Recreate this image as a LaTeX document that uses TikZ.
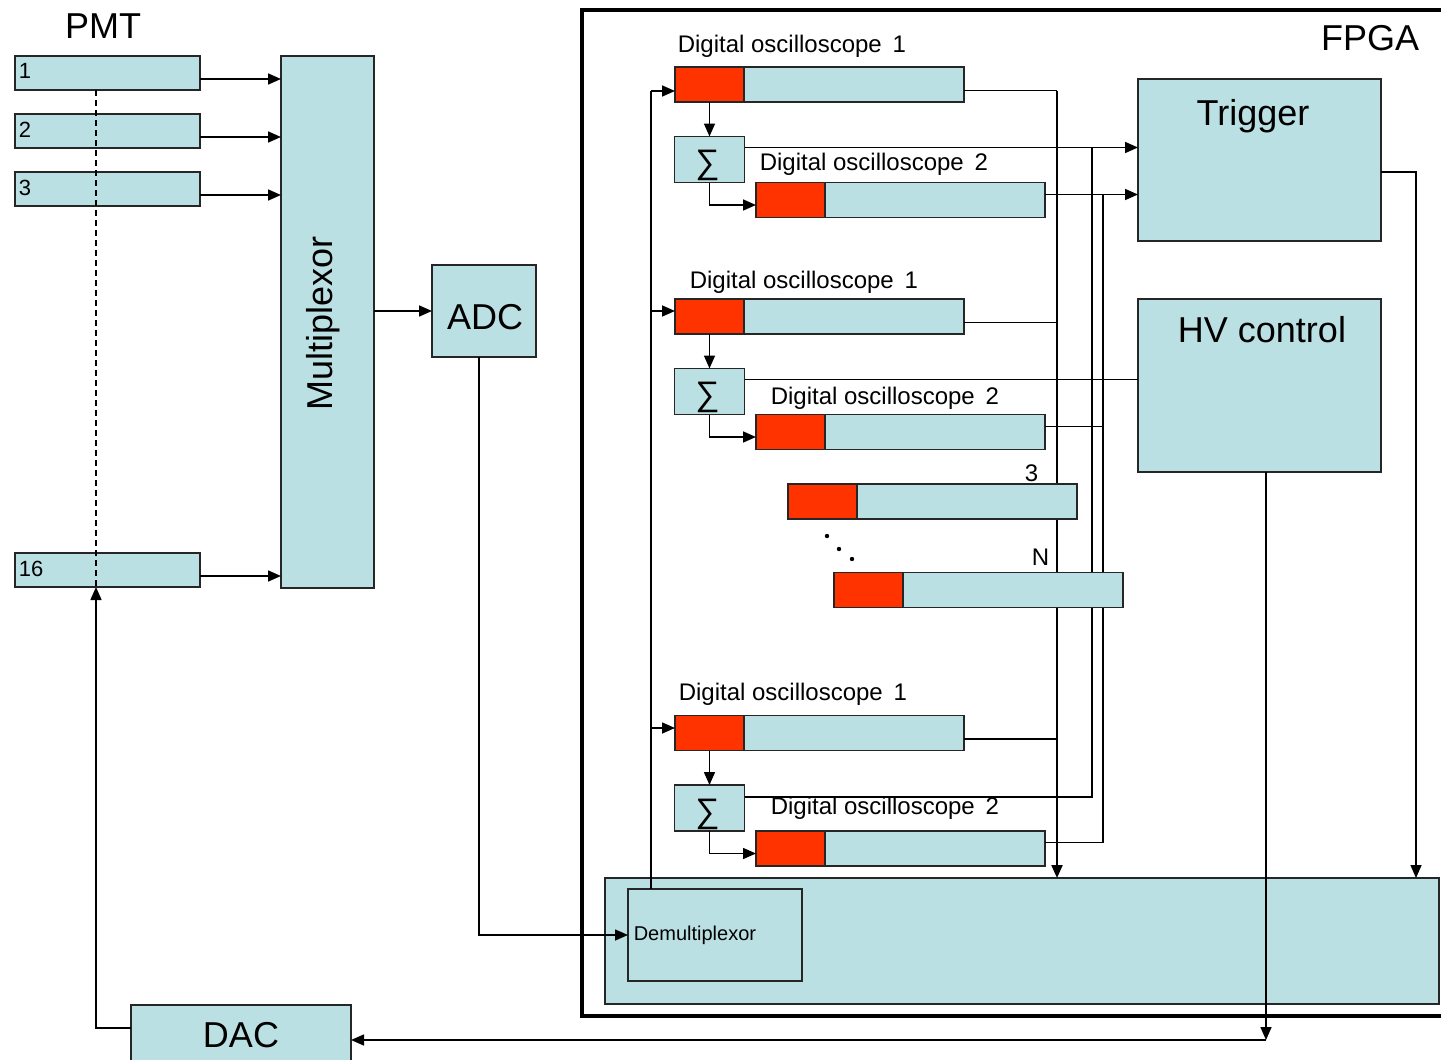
\documentclass[tikz,border=0pt]{standalone}
\usepackage{fontspec}
\setmainfont{Liberation Sans}
\usetikzlibrary{positioning,arrows.meta}
\definecolor{pale}{HTML}{BBE0E3}
\definecolor{hot}{HTML}{FF3300}

\begin{document}
\begin{tikzpicture}
[x=0.5pt,y=-0.5pt,
 >={Triangle[length=6.5pt,width=5.5pt]},
 line width=0.8pt,
 blk/.style={rectangle,draw=black!85,fill=pale,inner sep=0pt,outer sep=0pt},
 pmt/.style={blk,minimum width=92.5pt,minimum height=17pt},
 head/.style={blk,fill=hot,minimum width=34.5pt,minimum height=17.5pt},
 body/.style={blk,minimum width=110pt,minimum height=17.5pt},
 sig/.style={blk,minimum width=35pt,minimum height=23pt},
 sigt/.style={inner sep=0pt,font=\fontsize{17}{18}\selectfont},
 big/.style={inner sep=0pt,font=\fontsize{18}{20}\selectfont},
 txt/.style={inner sep=0pt,font=\fontsize{12}{14}\selectfont},
 num/.style={inner sep=0pt,font=\fontsize{11}{13}\selectfont},
 bus/.style={line width=1.1pt}]
\useasboundingbox (0,0) rectangle (1441,1060);

% FPGA frame and lower block
\node[draw,line width=1.6pt,inner sep=0pt,minimum width=435pt,minimum height=503pt] (fpga) at (1017,513) {};
\node[big] (fpgat) at (1370,38) {FPGA};
\node[blk,minimum width=417pt,minimum height=63pt] (proc) at (1022,941) {};
\node[blk,minimum width=87pt,minimum height=46pt] (dmx) at (715,935) {};
\node[inner sep=0pt,font=\fontsize{10}{12}\selectfont,anchor=west] (dmxt) [right=2.5pt of dmx.west] {Demultiplexor};

% PMT channels
\node[big] (pmtt) at (103,26.5) {PMT};
\node[pmt] (p1) at (107.5,73) {};
\node[pmt] (p2) [on grid,below=29pt of p1] {};
\node[pmt] (p3) [on grid,below=29pt of p2] {};
\node[pmt] (p16) [on grid,below=190.5pt of p3] {};
\foreach \n in {1,2,3,16}
  \node[num] (n\n) [below right=3.5pt and 1.5pt of p\n.north west] {\n};

\node[blk,minimum width=46.5pt,minimum height=266pt] (mux) at (327.5,322) {};
\node[big,rotate=90] (muxt) at (323.5,323.5) {Multiplexor};
\node[blk,minimum width=52pt,minimum height=46pt] (adc) at (484,311) {};
\node[big] (adct) at (485,317) {ADC};
\node[blk,minimum width=110pt,minimum height=35pt] (dac) at (241,1040) {};
\node[big] (dact) at (241,1035) {DAC};

\node[blk,minimum width=121.5pt,minimum height=81pt] (trig) at (1259.5,160) {};
\node[big] (trigt) at (1253,116) {Trigger};
\node[blk,minimum width=121.5pt,minimum height=86.5pt] (hv) at (1259.5,385.5) {};
\node[big] (hvt) at (1262,330) {HV control};

% oscilloscope pairs
\foreach \g/\y in {a/84.5,b/316.5,c/733}{
  \node[head] (\g1h) at (709.5,\y) {};
  \node[body] (\g1b) [right=0pt of \g1h] {};
  \node[sig]  (s\g)  [on grid,below=37.5pt of \g1h] {};
  \node[sigt] (s\g t) at ([xshift=-1pt,yshift=-3pt]s\g) {∑};
  \node[head] (\g2h) [on grid,below right=20.25pt and 40.5pt of s\g] {};
  \node[body] (\g2b) [right=0pt of \g2h] {};
}
\node[txt] (a1t) [above right=4.5pt and 1pt of a1h.north west] {Digital oscilloscope\hspace{.45em}1};
\node[txt] (a2t) [above right=3pt and 1.5pt of a2h.north west] {Digital oscilloscope\hspace{.45em}2};
\node[txt] (b1t) [above right=2.5pt and 7pt of b1h.north west] {Digital oscilloscope\hspace{.45em}1};
\node[txt] (b2t) [above right=2pt and 7pt of b2h.north west] {Digital oscilloscope\hspace{.45em}2};
\node[txt] (c1t) [above right=4.5pt and 1.5pt of c1h.north west] {Digital oscilloscope\hspace{.45em}1};
\node[txt] (c2t) [above right=5.5pt and 7pt of c2h.north west] {Digital oscilloscope\hspace{.45em}2};

% PMT -> multiplexor -> ADC -> demultiplexor
\foreach \n in {p1,p2,p3,p16}
  \draw[->] ([yshift=-3pt]\n.east) -- ([yshift=-3pt]\n.east -| mux.west);
\draw[dashed,dash pattern=on 3pt off 2pt] ([xshift=-5.75pt]p1.south) -- ([xshift=-5.75pt]p16.south);
\draw[->] ([yshift=6pt]dac.west) -| ([xshift=-5.75pt]p16.south);
\draw[->] (mux.east |- adc.west) -- (adc.west);
\draw[->] ([xshift=-2.5pt]adc.south) |- (dmx.west);

% feed from demultiplexor
\coordinate (fa) at (651,91);
\coordinate (fb) at (651,311);
\coordinate (fc) at (651,728);
\draw (dmx.north -| fa) -- (fa);
\foreach \g in {a,b,c}{
  \draw[->] (f\g) -- (f\g -| \g1h.west);
  \draw[->] (\g1h.south) -- (\g1h.south |- s\g.north);
  \draw[->] (s\g.south -| \g1h.south) |- ([yshift=-2.5pt]\g2h.west);
  \draw ([yshift=-3pt]\g1b.east) -- ++(93,0);
}

% buses
\coordinate (ob) at (1057,91);
\draw[bus,->] (ob) -- (ob |- proc.north);
\draw[->] ([yshift=6pt]sa.east) -- ([yshift=6pt]sa.east -| trig.west);
\draw ([yshift=6pt]sb.east) -- ([yshift=6pt]sb.east -| hv.west);
\coordinate (sbus) at (1092,148);
\draw ([yshift=5.5pt]sc.east) -| (sbus);
\draw[->] ([yshift=2.75pt]a2b.east) -- ([yshift=2.75pt]a2b.east -| trig.west);
\coordinate (tbus) at (1103,195);
\draw ([yshift=2.75pt]b2b.east) -- ++(58,0);
\draw ([yshift=3pt]c2b.east) -| (tbus);

% trigger and HV outputs
\draw[->] ([yshift=-6pt]trig.east) -| ([xshift=-11.5pt]proc.north east);
\coordinate (hvd) at (1266,1040);
\draw[->] ([xshift=3.25pt]hv.south) -- (hvd);
\draw[->] (hvd) -- (dac.east);

% channels 3 ... N
\node[head] (o3h) at (822.5,501.5) {};
\node[body] (o3b) [right=0pt of o3h] {};
\node[txt] (o3t) at (1031.5,473) {3};
\foreach \p in {(827,536),(839,549),(852,559)}
  \fill \p circle (1.1pt);
\node[head] (onh) at (868.5,590) {};
\node[body] (onb) [right=0pt of onh] {};
\node[txt] (ont) at (1040.5,557) {N};
\end{tikzpicture}
\end{document}
